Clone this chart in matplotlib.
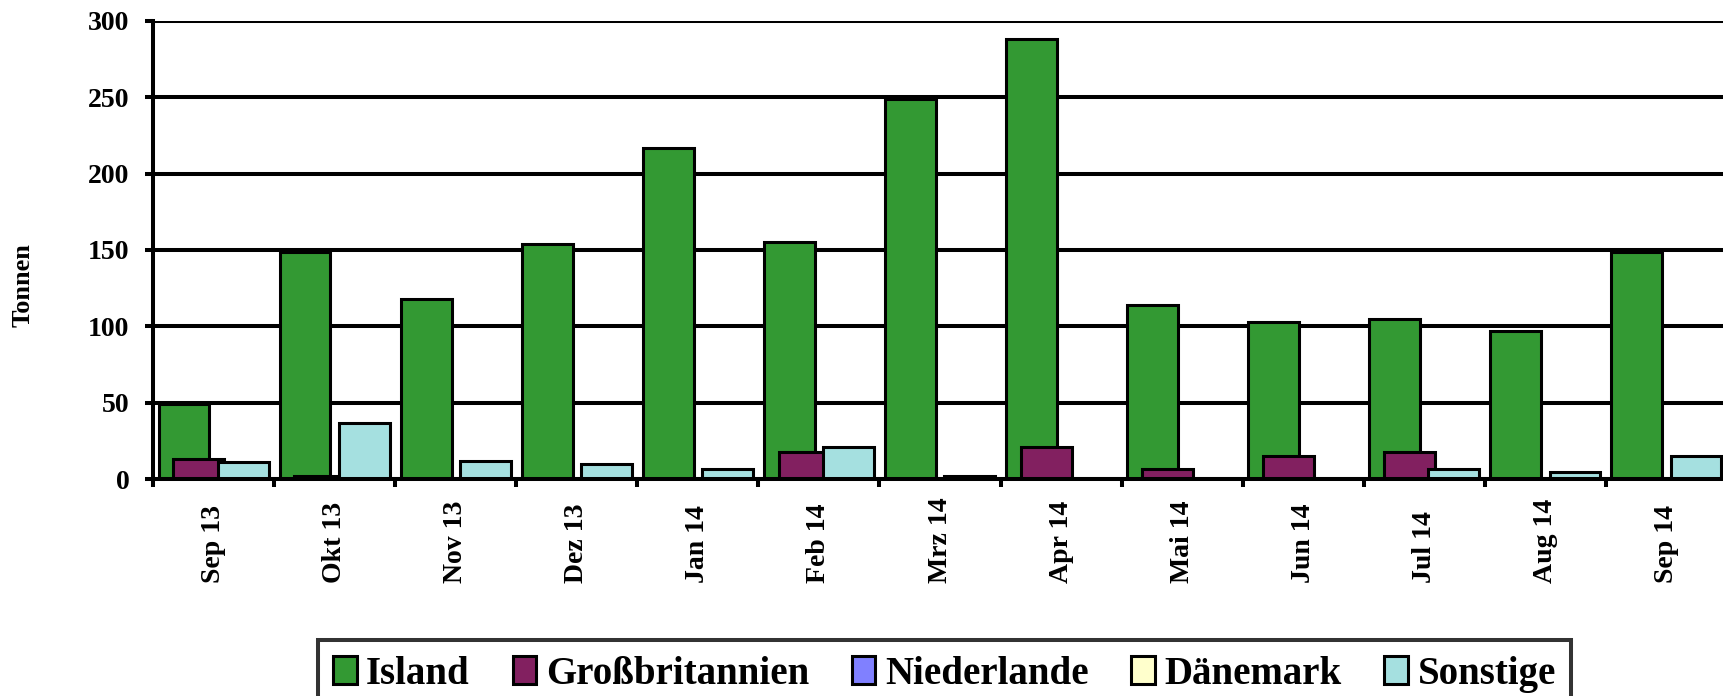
import matplotlib.pyplot as plt
import numpy as np

plt.rcParams['font.family'] = ['Liberation Serif', 'DejaVu Serif']
plt.rcParams['font.weight'] = 'bold'

# monthly values (Tonnen)
months = ['Sep 13', 'Okt 13', 'Nov 13', 'Dez 13', 'Jan 14', 'Feb 14', 'Mrz 14',
          'Apr 14', 'Mai 14', 'Jun 14', 'Jul 14', 'Aug 14', 'Sep 14']
island = [49, 149, 118, 154, 217, 155, 249, 288, 114, 103, 105, 97, 149]
grossbritannien = [13, 2, 0, 0, 0, 18, 0, 21, 7, 15, 18, 0, 0]
niederlande = [0, 0, 0, 0, 0, 0, 0, 0, 0, 0, 0, 0, 0]
daenemark = [0, 0, 0, 0, 0, 0, 0, 0, 0, 0, 0, 0, 0]
sonstige = [11, 37, 12, 10, 7, 21, 2, 0, 0, 0, 7, 5, 15]

series = [('Island', island, '#339933'),
          ('Großbritannien', grossbritannien, '#822060'),
          ('Niederlande', niederlande, '#8080FF'),
          ('Dänemark', daenemark, '#FFFFCC'),
          ('Sonstige', sonstige, '#A5E0E0')]

fig = plt.figure(figsize=(17.23, 6.96), dpi=100)
ax = fig.add_axes([153 / 1723, 1 - 479.3 / 696, (1727 - 153) / 1723, (479.3 - 20.7) / 696])

x = np.arange(len(months))
width = 0.42
step = 0.122
for k, (name, vals, col) in enumerate(series):
    ax.bar(x + (k - 2) * step, vals, width, color=col, edgecolor='black',
           linewidth=2.2, label=name, zorder=2 + k)

ax.set_xlim(-0.5, len(months) - 0.5)
ax.set_ylim(0, 300)
ax.set_yticks(range(0, 301, 50))
ax.yaxis.grid(True, color='black', linewidth=2.9)
ax.set_axisbelow(True)

for s in ['top', 'right']:
    ax.spines[s].set_visible(False)
for s in ['left', 'bottom']:
    ax.spines[s].set_linewidth(2.9)
    ax.spines[s].set_zorder(10)

# labels bottom-aligned like the original
ax.set_xticks(x)
ax.set_xticklabels(months, rotation=90, va='bottom', fontsize=20, fontweight='bold')
ax.set_xticks(np.arange(-0.5, len(months)), minor=True)
ax.tick_params(axis='x', which='major', length=0, pad=75)
ax.tick_params(axis='x', which='minor', length=6, width=2.9, direction='out')
ax.tick_params(axis='y', length=6, width=2.9, pad=11, labelsize=20)
for t in ax.get_yticklabels():
    t.set_fontweight('bold')

fig.text(23 / 1723, 1 - 285 / 696, 'Tonnen', rotation=90, ha='center', va='center',
         fontsize=19, fontweight='bold')

leg = fig.legend(loc='upper center', bbox_to_anchor=(944.5 / 1723, 1 - 640 / 696),
                 ncol=5, frameon=True, fancybox=False, edgecolor='black',
                 prop={'size': 28, 'weight': 'bold'}, handlelength=0.6,
                 handleheight=0.7, handletextpad=0.25, columnspacing=1.1,
                 borderaxespad=0, borderpad=0.4)
leg.get_frame().set_linewidth(2.9)

fig.savefig('out.png', dpi=100)
